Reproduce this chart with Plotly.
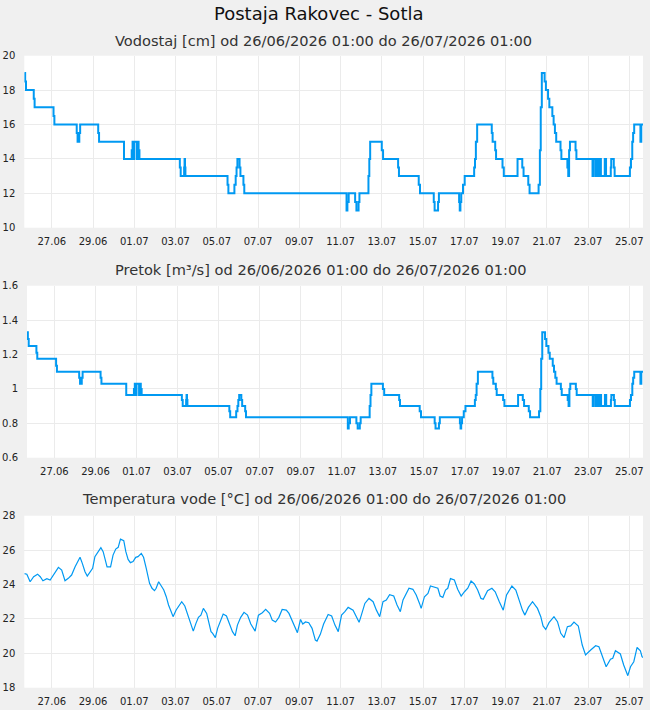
import pandas as pd
import plotly.graph_objects as go

# ---------------- data ----------------
step_times = [
    "2026-06-25 16:00", "2026-06-25 17:00", "2026-06-25 18:00", "2026-06-26 03:00", "2026-06-26 04:00",
    "2026-06-27 02:00", "2026-06-27 03:00", "2026-06-28 05:00", "2026-06-28 06:00", "2026-06-28 08:00",
    "2026-06-28 09:00", "2026-06-29 06:00", "2026-06-29 07:00", "2026-06-30 12:00", "2026-06-30 21:00",
    "2026-06-30 22:00", "2026-06-30 23:00", "2026-07-01 00:00", "2026-07-01 03:00", "2026-07-01 04:00",
    "2026-07-01 05:00", "2026-07-01 06:00", "2026-07-03 05:00", "2026-07-03 06:00", "2026-07-03 10:00",
    "2026-07-03 10:30", "2026-07-03 11:00", "2026-07-03 11:30", "2026-07-05 12:30", "2026-07-05 13:30",
    "2026-07-05 20:30", "2026-07-05 22:00", "2026-07-05 23:00", "2026-07-06 00:00", "2026-07-06 02:30",
    "2026-07-06 03:30", "2026-07-06 07:00", "2026-07-06 08:00", "2026-07-11 07:00", "2026-07-11 08:00",
    "2026-07-11 09:30", "2026-07-11 17:00", "2026-07-11 18:30", "2026-07-11 21:00", "2026-07-11 22:00",
    "2026-07-12 08:30", "2026-07-12 09:30", "2026-07-12 10:30", "2026-07-13 00:00", "2026-07-13 01:30",
    "2026-07-13 19:00", "2026-07-13 20:00", "2026-07-14 19:00", "2026-07-14 20:30", "2026-07-15 12:30",
    "2026-07-15 13:30", "2026-07-15 17:30", "2026-07-15 18:30", "2026-07-16 18:00", "2026-07-16 18:45",
    "2026-07-16 19:30", "2026-07-16 20:30", "2026-07-16 22:30", "2026-07-17 00:30", "2026-07-17 11:30",
    "2026-07-17 12:30", "2026-07-17 13:30", "2026-07-17 15:00", "2026-07-18 08:00", "2026-07-18 09:00",
    "2026-07-18 12:00", "2026-07-18 13:00", "2026-07-18 20:30", "2026-07-18 22:00", "2026-07-19 14:00",
    "2026-07-19 19:30", "2026-07-19 21:00", "2026-07-20 02:30", "2026-07-20 04:00", "2026-07-20 14:30",
    "2026-07-20 16:00", "2026-07-20 17:00", "2026-07-20 18:15", "2026-07-20 21:30", "2026-07-20 23:00",
    "2026-07-21 01:30", "2026-07-21 03:00", "2026-07-21 06:30", "2026-07-21 08:00", "2026-07-21 09:30",
    "2026-07-21 11:00", "2026-07-21 16:00", "2026-07-21 17:00", "2026-07-22 00:00", "2026-07-22 01:00",
    "2026-07-22 02:00", "2026-07-22 03:00", "2026-07-22 09:30", "2026-07-22 10:30", "2026-07-23 05:15",
    "2026-07-23 06:30", "2026-07-23 09:00", "2026-07-23 09:30", "2026-07-23 11:30", "2026-07-23 13:00",
    "2026-07-23 15:00", "2026-07-23 19:30", "2026-07-23 21:00", "2026-07-24 02:30", "2026-07-24 03:00",
    "2026-07-24 06:00", "2026-07-24 07:00", "2026-07-25 00:45", "2026-07-25 02:00", "2026-07-25 03:30",
    "2026-07-25 04:30", "2026-07-25 05:45", "2026-07-25 13:00", "2026-07-25 14:00", "2026-07-25 16:00",
]

level_cm = [
    19, 18.5, 18, 17.5, 17,
    16.5, 16, 15.5, 15, 15.5,
    16, 15.5, 15, 14, 14.5,
    15, 14, 15, 14, 15,
    14.5, 14, 13.5, 13, 13.5,
    14, 13.5, 13, 12.5, 12,
    12.5, 13, 13.5, 14, 13.5,
    13, 12.5, 12, 11, 11.5,
    12, 11.5, 11, 11.5, 12,
    13, 14, 15, 14.5, 14,
    13.5, 13, 12.5, 12, 11.5,
    11, 11.5, 12, 11.5, 11,
    11.5, 12, 12.5, 13, 13.5,
    14, 15, 16, 15.5, 15,
    14.5, 14, 13.5, 13, 14,
    13.5, 13, 12.5, 12, 12.5,
    14.5, 17, 19, 18.5, 18,
    17.5, 17, 16.5, 16, 15.5,
    15, 14.5, 14, 13.5, 13,
    14.5, 15, 14.5, 14, 13,
    14, 13, 14, 13, 14,
    13, 14, 13, 13.5, 14,
    13.5, 13, 13.5, 14, 15,
    15.5, 16, 15, 16, 16,
]

flow_m3s = [
    1.33, 1.29, 1.25, 1.21, 1.175,
    1.135, 1.10, 1.065, 1.03, 1.065,
    1.10, 1.065, 1.03, 0.965, 1.00,
    1.03, 0.965, 1.03, 0.965, 1.03,
    1.00, 0.965, 0.935, 0.90, 0.935,
    0.965, 0.935, 0.90, 0.87, 0.835,
    0.87, 0.90, 0.935, 0.965, 0.935,
    0.90, 0.87, 0.835, 0.77, 0.80,
    0.835, 0.80, 0.77, 0.80, 0.835,
    0.90, 0.965, 1.03, 1.00, 0.965,
    0.935, 0.90, 0.87, 0.835, 0.80,
    0.77, 0.80, 0.835, 0.80, 0.77,
    0.80, 0.835, 0.87, 0.90, 0.935,
    0.965, 1.03, 1.10, 1.065, 1.03,
    1.00, 0.965, 0.935, 0.90, 0.965,
    0.935, 0.90, 0.87, 0.835, 0.87,
    1.00, 1.175, 1.33, 1.29, 1.25,
    1.21, 1.175, 1.135, 1.10, 1.065,
    1.03, 1.00, 0.965, 0.935, 0.90,
    1.00, 1.03, 1.00, 0.965, 0.90,
    0.965, 0.90, 0.965, 0.90, 0.965,
    0.90, 0.965, 0.90, 0.935, 0.965,
    0.935, 0.90, 0.935, 0.965, 1.03,
    1.065, 1.10, 1.03, 1.10, 1.10,
]

# temperature: days after 2026-06-27 00:00, and degrees C
temp_days = [
    -1.33, -1.21, -1.05, -0.96, -0.88, -0.69, -0.56, -0.43, -0.24, -0.08,
    0.0, 0.16, 0.32, 0.48, 0.64, 0.80, 0.96, 1.13, 1.24, 1.37,
    1.48, 1.61, 1.72, 1.85, 1.98, 2.09, 2.20, 2.38, 2.49, 2.59,
    2.68, 2.85, 2.97, 3.10, 3.22, 3.33, 3.49, 3.59, 3.70, 3.81,
    3.94, 4.07, 4.18, 4.34, 4.45, 4.58, 4.74, 4.86, 4.98, 5.06,
    5.18, 5.31, 5.43, 5.55, 5.66, 5.79, 5.88, 6.03, 6.14, 6.30,
    6.45, 6.59, 6.75, 6.86, 6.99, 7.11, 7.23, 7.35, 7.51, 7.60,
    7.72, 7.80, 7.93, 8.04, 8.15, 8.31, 8.47, 8.60, 8.76, 8.89,
    9.00, 9.16, 9.32, 9.49, 9.65, 9.86, 10.02, 10.21, 10.37, 10.56,
    10.69, 10.85, 11.01, 11.17, 11.37, 11.50, 11.66, 11.82, 11.91, 12.06,
    12.17, 12.30, 12.46, 12.62, 12.78, 12.86, 13.02, 13.18, 13.40, 13.57,
    13.73, 13.89, 14.05, 14.21, 14.37, 14.61, 14.77, 14.90, 15.01, 15.18,
    15.38, 15.58, 15.74, 15.90, 16.06, 16.22, 16.38, 16.58, 16.74, 16.90,
    17.03, 17.16, 17.32, 17.51, 17.67, 17.83, 17.91, 18.07, 18.24, 18.36,
    18.56, 18.72, 18.83, 18.96, 19.09, 19.20, 19.33, 19.52, 19.68, 19.85,
    20.01, 20.17, 20.33, 20.49, 20.65, 20.81, 20.92, 21.13, 21.34, 21.50,
    21.70, 21.89, 22.05, 22.18, 22.31, 22.50, 22.66, 22.82, 22.94, 23.11,
    23.31, 23.55, 23.71, 23.82, 23.95, 24.11, 24.35, 24.52, 24.68, 24.84,
    25.00, 25.16, 25.32, 25.53, 25.72, 25.88, 26.13, 26.37, 26.53, 26.69,
    26.88, 27.09, 27.20, 27.33, 27.57, 27.73, 27.93, 28.06, 28.22, 28.38,
    28.54, 28.62, 28.667,
]

temp_c = [
    24.63, 24.60, 24.16, 24.30, 24.45, 24.60, 24.45, 24.22, 24.34, 24.26,
    24.41, 24.74, 25.00, 24.84, 24.22, 24.36, 24.55, 25.03, 25.27, 25.58,
    25.23, 24.74, 24.49, 24.69, 24.94, 25.62, 25.81, 26.14, 25.91, 25.52,
    25.03, 25.03, 25.71, 26.06, 26.16, 26.64, 26.55, 25.91, 25.46, 25.27,
    25.33, 25.58, 25.62, 25.81, 25.58, 24.94, 24.07, 23.78, 23.64, 23.78,
    24.16, 23.91, 23.68, 23.29, 22.81, 22.42, 22.13, 22.52, 22.75, 23.00,
    22.75, 22.22, 21.64, 21.29, 21.74, 22.09, 22.22, 22.61, 22.32, 21.84,
    21.26, 21.16, 20.91, 21.45, 21.84, 22.28, 22.17, 21.74, 21.26, 21.02,
    21.64, 22.09, 22.38, 22.22, 21.70, 21.29, 22.22, 22.36, 22.55, 22.32,
    21.93, 21.82, 22.09, 22.55, 22.51, 22.32, 21.90, 21.45, 21.20, 21.97,
    21.70, 21.82, 21.78, 21.45, 20.77, 20.71, 21.10, 21.70, 22.26, 22.17,
    21.64, 21.26, 22.22, 22.42, 22.67, 22.51, 22.13, 21.80, 22.22, 22.90,
    23.19, 23.00, 22.51, 22.13, 23.00, 23.10, 23.41, 23.33, 22.81, 22.42,
    23.10, 23.39, 23.78, 23.72, 23.39, 22.90, 22.61, 23.29, 23.48, 23.91,
    23.83, 23.78, 23.33, 23.25, 23.68, 23.78, 24.34, 24.26, 23.72, 23.33,
    23.58, 23.78, 24.20, 24.03, 23.68, 23.19, 23.14, 23.64, 23.78, 23.58,
    23.00, 22.51, 23.39, 23.68, 23.91, 23.68, 23.10, 22.51, 22.22, 22.67,
    23.00, 22.61, 22.13, 21.59, 21.39, 21.78, 22.13, 21.84, 21.16, 20.91,
    21.55, 21.59, 21.82, 21.59, 20.48, 19.90, 20.19, 20.44, 20.38, 19.80,
    19.22, 19.65, 19.71, 20.15, 19.96, 19.32, 18.70, 19.22, 19.51, 20.34,
    20.15, 19.80, 19.75,
]

x_range = ["2026-06-25 16:00", "2026-07-25 16:00"]

main_title = "Postaja Rakovec - Sotla"
panel_titles = [
    "Vodostaj [cm] od 26/06/2026 01:00 do 26/07/2026 01:00",
    "Pretok [m³/s] od 26/06/2026 01:00 do 26/07/2026 01:00",
    "Temperatura vode [°C] od 26/06/2026 01:00 do 26/07/2026 01:00",
]

# ---------------- figure ----------------
W, H = 650, 710
LINE = "#0099f2"
GRID = "#ebebeb"
BG = "#f0f0f0"
FONT = "DejaVu Sans"

step_x = pd.to_datetime(step_times)
temp_x = pd.Timestamp("2026-06-27") + pd.to_timedelta(temp_days, unit="D")

fig = go.Figure()
fig.add_trace(go.Scatter(x=step_x, y=level_cm, mode="lines", line=dict(color=LINE, width=2, shape="hv"),
                         xaxis="x", yaxis="y", hoverinfo="x+y"))
fig.add_trace(go.Scatter(x=step_x, y=flow_m3s, mode="lines", line=dict(color=LINE, width=2, shape="hv"),
                         xaxis="x2", yaxis="y2", hoverinfo="x+y"))
fig.add_trace(go.Scatter(x=temp_x, y=temp_c, mode="lines", line=dict(color=LINE, width=1.2),
                         xaxis="x3", yaxis="y3", hoverinfo="x+y"))


def px_x(p):
    return p / W


def px_y(p):
    return 1 - p / H


def xaxis(left, anchor):
    return dict(domain=[px_x(left), px_x(643)], anchor=anchor, type="date", range=x_range,
                tick0="2026-06-27", dtick=2 * 86400000, tickformat="%d.%m",
                showgrid=True, gridcolor=GRID, gridwidth=1, zeroline=False, showline=False,
                ticks="outside", ticklen=4, tickcolor="rgba(0,0,0,0)",
                tickfont=dict(family=FONT, size=10, color="#222"), automargin=False)


def yaxis(top, bottom, rng, dtick, anchor):
    return dict(domain=[px_y(bottom), px_y(top)], anchor=anchor, range=rng, dtick=dtick,
                showgrid=True, gridcolor=GRID, gridwidth=1, zeroline=False, showline=False,
                ticks="outside", ticklen=6, tickcolor="rgba(0,0,0,0)",
                tickfont=dict(family=FONT, size=10, color="#222"), automargin=False, fixedrange=True)


fig.update_layout(
    width=W, height=H,
    margin=dict(l=0, r=0, t=0, b=0),
    paper_bgcolor=BG, plot_bgcolor="white",
    showlegend=False,
    font=dict(family=FONT, color="#222"),
    xaxis=xaxis(24.3, "y"),
    xaxis2=xaxis(27.0, "y2"),
    xaxis3=xaxis(24.3, "y3"),
    yaxis=yaxis(55.7, 227.7, [10, 20], 2, "x"),
    yaxis2=yaxis(285.7, 457.7, [0.6, 1.6], 0.2, "x2"),
    yaxis3=yaxis(515.7, 687.7, [18, 28], 2, "x3"),
)

fig.add_annotation(text=main_title, x=px_x(318), y=px_y(14), xref="paper", yref="paper",
                   xanchor="center", yanchor="middle", showarrow=False,
                   font=dict(family=FONT, size=18, color="#111"))
for t, yc, xc in zip(panel_titles, [40, 270, 499], [323, 320, 324]):
    fig.add_annotation(text=t, x=px_x(xc), y=px_y(yc), xref="paper", yref="paper",
                       xanchor="center", yanchor="middle", showarrow=False,
                       font=dict(family=FONT, size=14.6, color="#333"))

fig.write_html("out.html")
